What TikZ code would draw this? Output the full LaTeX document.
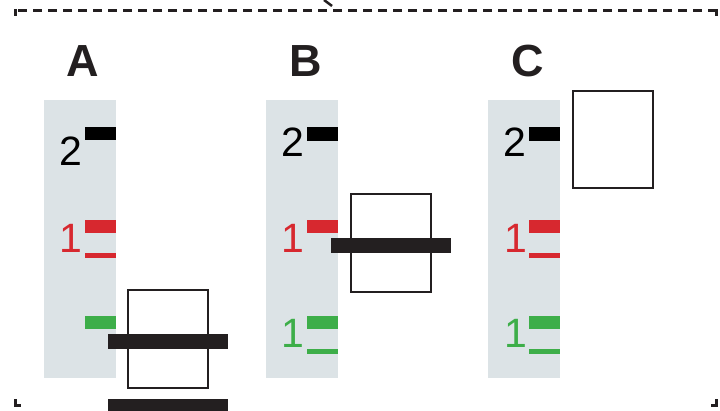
\documentclass[tikz,border=0pt]{standalone}
\usepackage{fontspec}
\setmainfont{Liberation Sans}
\definecolor{panelgray}{HTML}{DCE3E6}
\definecolor{ink}{HTML}{231F20}
\definecolor{lvred}{HTML}{D7282F}
\definecolor{lvgreen}{HTML}{3DAE49}
\begin{document}
\begin{tikzpicture}[x=1pt,y=-1pt,
  panel/.style={fill=panelgray},
  blackbar/.style={fill=black},
  redbar/.style={fill=lvred},
  greenbar/.style={fill=lvgreen},
  inkbar/.style={fill=ink},
  stackbox/.style={draw=ink,line width=2.7pt,fill=white},
  heading/.style={inner sep=0pt,font=\fontsize{45}{45}\bfseries\selectfont,text=ink},
  digit/.style={inner sep=0pt,font=\fontsize{41}{41}\selectfont},
  frame/.style={line width=3pt,draw=ink},
]
\useasboundingbox (0,0) rectangle (720,411);

% frame fragments
\draw[frame,dash pattern=on 9pt off 6pt] (18,11) -- (712,11);
\draw[frame] (15,16) -- (15,11) -- (17,11);
\draw[frame] (710,11) -- (716,11) -- (716,16);
\draw[frame] (15,399) -- (15,405) -- (21,405);
\draw[frame] (711,405) -- (716,405) -- (716,399);
\draw[frame,line width=2.5pt] (324,0) -- (332,6);

% headings
\node[heading] (hA) at (83,61) {A};
\node[heading] (hB) at (306,61) {B};
\node[heading] (hC) at (527.5,61) {C};

% panels
\fill[panel] (44,100) rectangle (116,378);
\fill[panel] (266,100) rectangle (338,378);
\fill[panel] (488,100) rectangle (560,378);

% panel A
\fill[blackbar] (85,127) rectangle (116,140);
\fill[redbar] (85,220) rectangle (116,233);
\fill[redbar] (85,253) rectangle (116,258);
\fill[greenbar] (85,316) rectangle (116,329);
\node[digit] (a2) at (71,151) {2};
\node[digit,text=lvred] (a1) at (70.5,238) {1};

% panel B
\fill[blackbar] (307,127) rectangle (338,141);
\fill[redbar] (307,220) rectangle (338,233);
\fill[greenbar] (307,316) rectangle (338,329);
\fill[greenbar] (307,349) rectangle (338,354);
\node[digit] (b2) at (292.5,142) {2};
\node[digit,text=lvred] (b1r) at (293,238) {1};
\node[digit,text=lvgreen] (b1g) at (292.5,333.5) {1};

% panel C
\fill[blackbar] (529,127) rectangle (560,141);
\fill[redbar] (529,220) rectangle (560,233);
\fill[redbar] (529,253) rectangle (560,258);
\fill[greenbar] (529,316) rectangle (560,329);
\fill[greenbar] (529,349) rectangle (560,354);
\node[digit] (c2) at (514.5,142) {2};
\node[digit,text=lvred] (c1r) at (515.5,238) {1};
\node[digit,text=lvgreen] (c1g) at (516,333.5) {1};

% boxes and bars
\draw[stackbox] (128,290) rectangle (208,388);
\fill[inkbar] (108,334) rectangle (228,349);
\fill[inkbar] (108,399) rectangle (228,411);

\draw[stackbox] (351,194) rectangle (431,292);
\fill[inkbar] (331,238) rectangle (451,253);

\draw[stackbox] (573,91) rectangle (653,188);
\end{tikzpicture}
\end{document}
